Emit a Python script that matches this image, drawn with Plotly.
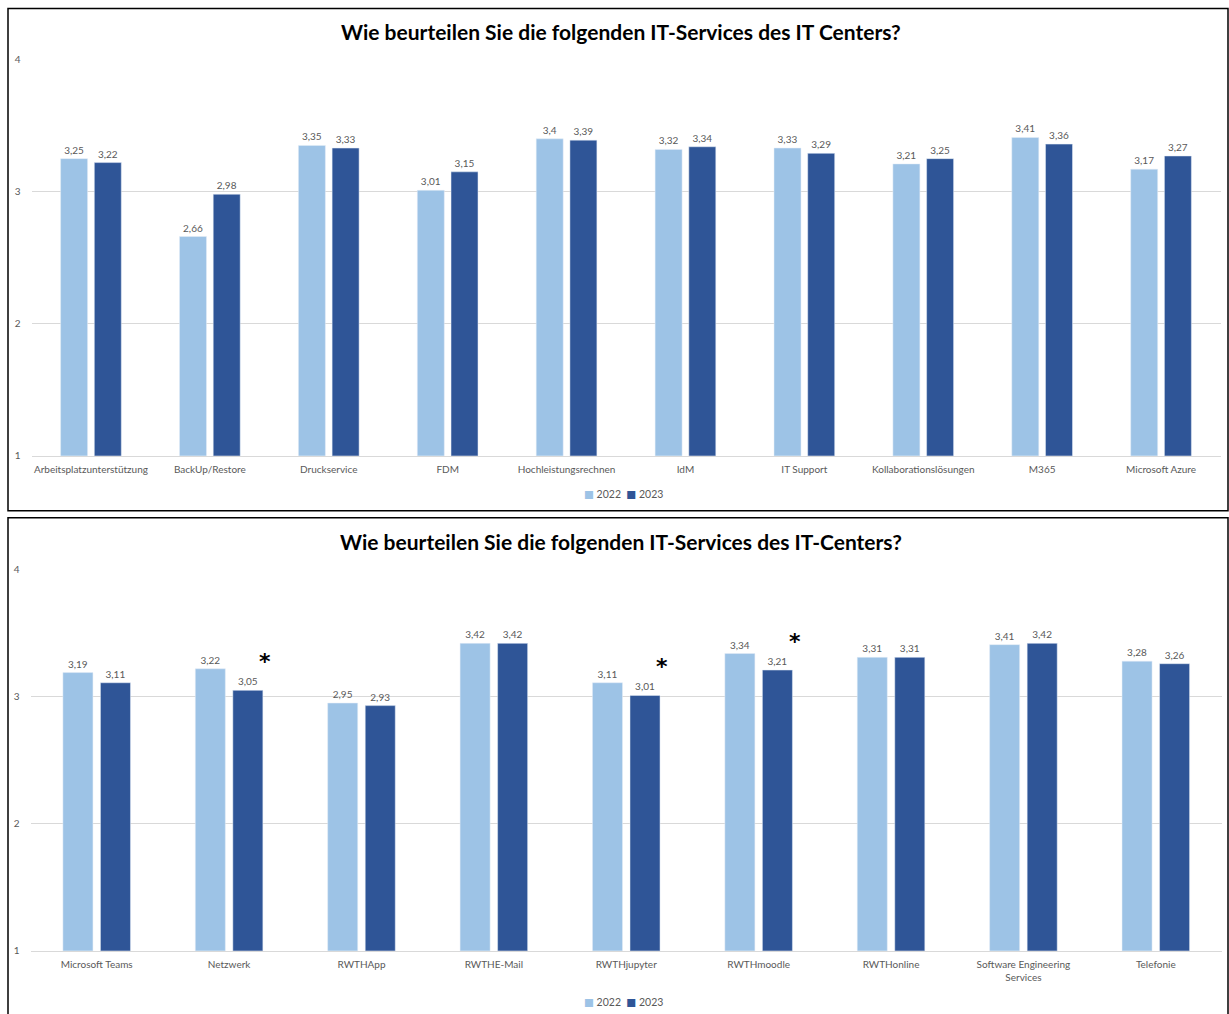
import plotly.graph_objects as go

title_top = "Wie beurteilen Sie die folgenden IT-Services des IT Centers?"
title_bottom = "Wie beurteilen Sie die folgenden IT-Services des IT-Centers?"

cats_top = ["Arbeitsplatzunterstützung", "BackUp/Restore", "Druckservice", "FDM",
            "Hochleistungsrechnen", "IdM", "IT Support", "Kollaborationslösungen",
            "M365", "Microsoft Azure"]
top_2022 = [3.25, 2.66, 3.35, 3.01, 3.40, 3.32, 3.33, 3.21, 3.41, 3.17]
top_2023 = [3.22, 2.98, 3.33, 3.15, 3.39, 3.34, 3.29, 3.25, 3.36, 3.27]

cats_bottom = ["Microsoft Teams", "Netzwerk", "RWTHApp", "RWTHE-Mail", "RWTHjupyter",
               "RWTHmoodle", "RWTHonline", "Software Engineering<br>Services", "Telefonie"]
bottom_2022 = [3.19, 3.22, 2.95, 3.42, 3.11, 3.34, 3.31, 3.41, 3.28]
bottom_2023 = [3.11, 3.05, 2.93, 3.42, 3.01, 3.21, 3.31, 3.42, 3.26]
starred_bottom = ["Netzwerk", "RWTHjupyter", "RWTHmoodle"]

years = ["2022", "2023"]
yticks = [1, 2, 3, 4]

C22 = "#9DC3E6"
C23 = "#2F5597"
GREY = "#595959"
FONT = "Lato"


def fmt(v):
    return f"{v:g}".replace(".", ",")


fig = go.Figure()

for name, vals, col in [(years[0], top_2022, C22), (years[1], top_2023, C23)]:
    fig.add_trace(go.Bar(x=cats_top, y=vals, name=name, marker_color=col,
                         text=[fmt(v) for v in vals], textposition="outside",
                         textfont=dict(size=10, color=GREY, family=FONT),
                         cliponaxis=False, xaxis="x", yaxis="y", showlegend=False,
                         hoverinfo="skip"))

for name, vals, col in [(years[0], bottom_2022, C22), (years[1], bottom_2023, C23)]:
    fig.add_trace(go.Bar(x=cats_bottom, y=vals, name=name, marker_color=col,
                         text=[fmt(v) for v in vals], textposition="outside",
                         textfont=dict(size=10, color=GREY, family=FONT),
                         cliponaxis=False, xaxis="x2", yaxis="y2", showlegend=False,
                         hoverinfo="skip"))

W, H = 1229, 1014
# the page is photographed slightly compressed vertically; compensate
S, OFF = 0.987, 6.4


def px(v):
    return v / W


def py(v):
    return 1 - ((v - OFF) / S) / H


axis_common = dict(tickfont=dict(size=10, color=GREY, family=FONT), ticks="",
                   showgrid=False, ticklabelstandoff=4)
yaxis_common = dict(range=[1, 4], tickvals=yticks, showgrid=True, gridcolor="#D9D9D9",
                    gridwidth=1, zeroline=False, tickfont=dict(size=10, color=GREY, family=FONT),
                    ticks="", ticklabelstandoff=10)

legend_text = (f'<span style="color:{C22}; font-family:DejaVu Sans">■</span> {years[0]}  '
               f'<span style="color:{C23}; font-family:DejaVu Sans">■</span> {years[1]}')

annotations = [
    dict(text=f"<b>{title_top}</b>", x=0.505, y=py(31), xref="paper", yref="paper",
         showarrow=False, font=dict(size=21, color="black", family=FONT), yanchor="middle"),
    dict(text=f"<b>{title_bottom}</b>", x=0.505, y=py(541), xref="paper", yref="paper",
         showarrow=False, font=dict(size=21, color="black", family=FONT), yanchor="middle"),
    dict(text=legend_text, x=px(623), y=py(493), xref="paper", yref="paper",
         showarrow=False, font=dict(size=10.5, color=GREY, family=FONT), yanchor="middle"),
    dict(text=legend_text, x=px(623), y=py(1001), xref="paper", yref="paper",
         showarrow=False, font=dict(size=10.5, color=GREY, family=FONT), yanchor="middle"),
]
for c, v in zip(cats_bottom, bottom_2023):
    if c in starred_bottom:
        annotations.append(dict(text="<b>*</b>", x=c, y=v, xref="x2", yref="y2",
                                xshift=36, yshift=29, showarrow=False,
                                font=dict(size=22, color="black", family="DejaVu Sans")))

fig.update_layout(
    width=W, height=H, margin=dict(l=0, r=0, t=0, b=0),
    paper_bgcolor="white", plot_bgcolor="white",
    barmode="group", bargap=0.433, bargroupgap=0.2,
    showlegend=False,
    xaxis=dict(domain=[px(31.5), px(1220.5)], anchor="y", showline=True, linecolor="#D9D9D9",
               **axis_common),
    yaxis=dict(domain=[py(455), py(59)], anchor="x", **yaxis_common),
    xaxis2=dict(domain=[px(30.5), px(1222)], anchor="y2", showline=True, linecolor="#D9D9D9",
                **axis_common),
    yaxis2=dict(domain=[py(950), py(569)], anchor="x2", **yaxis_common),
    annotations=annotations,
    shapes=[
        dict(type="rect", xref="paper", yref="paper", x0=px(8), x1=px(1228), y0=py(510), y1=py(8),
             line=dict(color="black", width=1.5)),
        dict(type="rect", xref="paper", yref="paper", x0=px(8), x1=px(1228), y0=py(1018), y1=py(517),
             line=dict(color="black", width=1.5)),
    ],
    font=dict(family=FONT),
)

fig.write_html("out.html")
